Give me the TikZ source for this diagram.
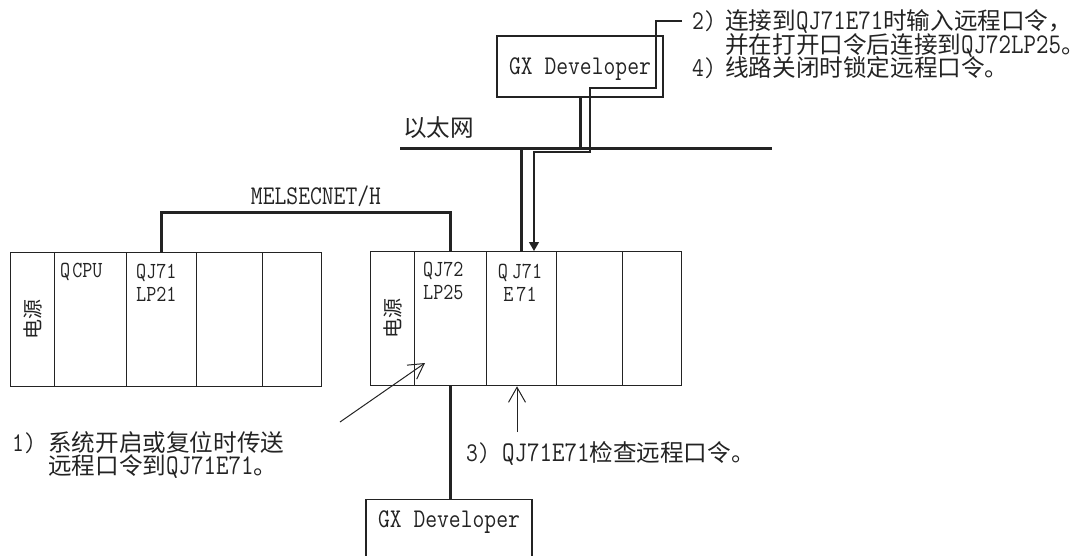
\documentclass[tikz,border=0pt]{standalone}
\usepackage{fontspec}
\newfontfamily\cjk{Noto Sans CJK SC}
\newfontfamily\latf[FakeStretch=0.85]{Latin Modern Mono}
\usetikzlibrary{arrows.meta}
\definecolor{ink}{RGB}{35,35,35}
\newcommand{\latx}[1]{{\fontsize{28.5}{23.5}\selectfont\latf #1}}
\begin{document}
\begin{tikzpicture}[x=1pt,y=-1pt,
  every node/.style={inner sep=0pt, text=ink},
  cjktext/.style={font=\fontsize{23.6}{23.5}\selectfont\cjk, anchor=west, text height=19pt, text depth=1.6pt},
  numtext/.style={font=\fontsize{27}{23.5}\selectfont\latf, anchor=west, text height=19pt, text depth=1.6pt},
  slotlab/.style={font=\fontsize{23}{23}\selectfont\latf, align=left, anchor=north west},
  slot/.style={draw=ink, line width=1.3pt, minimum height=134pt, anchor=north west},
  pwr/.style={font=\fontsize{20}{20}\selectfont\cjk, rotate=90},
  gxbox/.style={draw=ink, line width=1.3pt, minimum width=166pt, minimum height=61pt, font=\fontsize{27}{27}\selectfont\latf, text height=15pt},
  bus/.style={draw=ink, line width=3pt},
  thinl/.style={draw=ink, line width=1.3pt},
  ptr/.style={draw=ink, line width=1pt, -{Straight Barb[length=15pt,width=17pt]}}
]
\useasboundingbox (0,0) rectangle (1074,555);
\clip (0,0) rectangle (1074,555);

% left rack
\node[slot, minimum width=44pt] (lps)  at (10,252)  {};
\node[slot, minimum width=72pt] (lcpu) at (54,252)  {};
\node[slot, minimum width=70pt] (llp)  at (126,252) {};
\node[slot, minimum width=66pt] (le1)  at (196,252) {};
\node[slot, minimum width=59pt] (le2)  at (262,252) {};
% right rack
\node[slot, minimum width=44pt] (rps)  at (370,251) {};
\node[slot, minimum width=72pt] (rlp)  at (414,251) {};
\node[slot, minimum width=70pt] (re71) at (486,251) {};
\node[slot, minimum width=66pt] (re1)  at (556,251) {};
\node[slot, minimum width=59pt] (re2)  at (622,251) {};

% slot labels
\node[pwr] (lpwrt) at (lps.center) {电源};
\node[pwr] (rpwrt) at (rps.center) {电源};
\node[slotlab] (lcput) at (60,263) {Q\kern2pt CPU};
\node[slotlab] (llpt) at (136,264) {QJ71\\LP21};
\node[slotlab] (rlpt) at (423,262) {QJ72\\LP25};
\node[slotlab, align=center, anchor=north] (re71t) at (520,264) {Q\kern4pt J71\\E\kern3pt 71};

% MELSECNET/H
\draw[bus] (llp.north) -- ++(0,-40) -| (rlp.north);
\node[font=\fontsize{27}{27}\selectfont\latf] (mnet) at (316,196.5) {MELSECNET/H};

% Ethernet
\coordinate (ethl) at (400,148);
\coordinate (ethr) at (772,148);
\draw[bus] (ethl) -- (ethr);
\node[cjktext] (ethlab) at (403,128) {以太网};

\node[gxbox, text depth=0pt] (gx1) at (580,66.5) {GX Developer};
\draw[bus] (gx1.south) -- (gx1.south |- ethl);
\draw[bus] (re71.north) -- (re71.north |- ethl);

% password path
\coordinate (c2) at (682,21);
\coordinate (k) at (534,152);
\draw[thinl, -{Triangle[length=9pt,width=10pt]}] (c2) -- (656,21) -- (656,88) -- (590,88) -- (590,152) -- (k) -- (k |- re71.north);

% bottom GX Developer
\node[gxbox, anchor=north, text depth=20pt] (gx2) at (449,499) {GX Developer};
\draw[bus] (rlp.south) -- (rlp.south |- gx2.north);

% pointer arrows
\coordinate (a1s) at (340,422);
\coordinate (a1e) at (425,363);
\draw[ptr] (a1s) -- (a1e);
\coordinate (a3s) at (517,432);
\draw[ptr] (a3s) -- (a3s |- re71.south);

% texts
\node[numtext] (n2) at (692,21) {2)};
\node[cjktext] (t2a) at (725,21) {连接到\latx{QJ71E71}时输入远程口令，\kern-12pt};
\node[cjktext] (t2b) at (725,45) {并在打开口令后连接到\latx{QJ72LP25}。\kern-12pt};
\node[numtext] (n4) at (692,68) {4)};
\node[cjktext] (t4) at (725,68) {线路关闭时锁定远程口令。};
\node[numtext] (n1) at (12,443) {1)};
\node[cjktext] (t1a) at (48,443) {系统开启或复位时传送};
\node[cjktext] (t1b) at (48,466) {远程口令到\latx{QJ71E71}。};
\node[numtext] (n3) at (466,453) {3)};
\node[cjktext] (t3) at (502,453) {\latx{QJ71E71}检查远程口令。};
\end{tikzpicture}
\end{document}
